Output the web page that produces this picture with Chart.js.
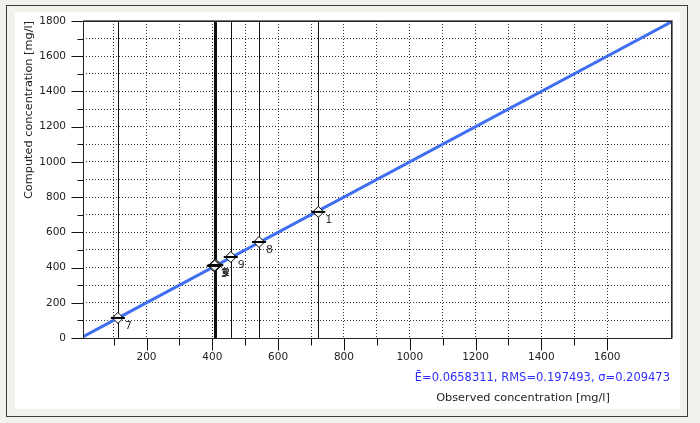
<!DOCTYPE html>
<html>
<head>
<meta charset="utf-8">
<script src="https://cdn.jsdelivr.net/npm/chart.js@4.4.0/dist/chart.umd.min.js"></script>
<style>
  html, body { margin: 0; padding: 0; background: #f2f2ed; }
  body { width: 700px; height: 423px; position: relative; overflow: hidden; }
  #frame { position: absolute; left: 6px; top: 5px; width: 682px; height: 412px; box-sizing: border-box; border: 1px solid #3c3c3c; }
  #panel { position: absolute; left: 15px; top: 12px; width: 665px; height: 397px; background: #fff; }
  canvas { display: block; }
</style>
</head>
<body>
<div id="frame"></div>
<div id="panel"><canvas id="chart" width="665" height="397"></canvas></div>
<script>
// sample numbers and values
const pointLabels = ["1", "2", "3", "4", "5", "7", "8", "9"];
const observed = [722, 412, 404, 409, 407, 113, 542, 456];
const computed = [716, 414, 410, 413, 411, 114, 545, 460];
// ideal line y = x over the axis range
const idealLine = [7, 1794];
const xTickLabels = [200, 400, 600, 800, 1000, 1200, 1400, 1600];
const yTickLabels = [0, 200, 400, 600, 800, 1000, 1200, 1400, 1600, 1800];
const statsText = "Ē=0.0658311, RMS=0.197493, σ=0.209473";

const FONT = '"DejaVu Sans", sans-serif';

const points = observed.map((v, i) => ({ x: v, y: computed[i] }));

const decor = {
    id: "decor",
    beforeDatasetsDraw(chart) {
        // vertical lines through every sample
        const { ctx, scales: { x, y } } = chart;
        ctx.save();
        ctx.strokeStyle = "#111";
        ctx.lineWidth = 1;
        observed.forEach(v => {
            const px = Math.round(x.getPixelForValue(v)) + 0.5;
            ctx.beginPath();
            ctx.moveTo(px, y.getPixelForValue(0));
            ctx.lineTo(px, y.getPixelForValue(1800));
            ctx.stroke();
        });
        ctx.restore();
    },
    afterDatasetsDraw(chart) {
        const { ctx, scales: { x, y } } = chart;
        ctx.save();
        ctx.font = "11px " + FONT;
        ctx.fillStyle = "#333";
        ctx.textAlign = "left";
        ctx.textBaseline = "middle";
        pointLabels.forEach((lab, i) => {
            ctx.fillText(lab, x.getPixelForValue(observed[i]) + 7, y.getPixelForValue(computed[i]) + 8);
        });
        ctx.restore();
    },
    afterDraw(chart) {
        const { ctx, chartArea: a, scales: { x, y } } = chart;
        ctx.save();
        // plot frame
        ctx.strokeStyle = "#222";
        ctx.lineWidth = 1;
        ctx.strokeRect(Math.round(a.left) + 0.5, Math.round(a.top) + 0.5,
            Math.round(a.right - a.left), Math.round(a.bottom - a.top));
        ctx.strokeStyle = "#777";
        ctx.beginPath();
        ctx.moveTo(Math.round(a.left), Math.round(a.top) - 0.5);
        ctx.lineTo(Math.round(a.right) + 1.5, Math.round(a.top) - 0.5);
        ctx.lineTo(Math.round(a.right) + 1.5, Math.round(a.bottom) + 0.5);
        ctx.stroke();

        // tick marks, long at labelled values
        ctx.strokeStyle = "#111";
        const bottom = Math.round(a.bottom) + 0.5;
        x.ticks.forEach(t => {
            if (t.value % 100 !== 0) return;
            const len = t.value % 200 === 0 ? 12 : 7;
            const px = Math.round(x.getPixelForValue(t.value)) + 0.5;
            ctx.beginPath();
            ctx.moveTo(px, bottom);
            ctx.lineTo(px, bottom + len);
            ctx.stroke();
        });
        const left = Math.round(a.left) + 0.5;
        y.ticks.forEach(t => {
            if (t.value % 100 !== 0) return;
            const len = t.value % 200 === 0 ? 12 : 6;
            const py = Math.round(y.getPixelForValue(t.value)) + 0.5;
            ctx.beginPath();
            ctx.moveTo(left, py);
            ctx.lineTo(left - len, py);
            ctx.stroke();
        });

        // statistics and x title
        ctx.textBaseline = "middle";
        ctx.font = "11.5px " + FONT;
        ctx.fillStyle = "#2f2fff";
        ctx.textAlign = "right";
        ctx.fillText(statsText, a.right - 1, a.bottom + 40);
        ctx.font = "11.3px " + FONT;
        ctx.fillStyle = "#222";
        ctx.textAlign = "center";
        ctx.fillText("Observed concentration [mg/l]", a.left + 440, a.bottom + 60);
        ctx.restore();
    }
};

new Chart(document.getElementById("chart"), {
    type: "scatter",
    data: {
        datasets: [
            {
                // arrow bar through each marker
                data: points,
                pointStyle: "line",
                pointRadius: 7,
                pointBorderWidth: 2,
                pointBorderColor: "#000",
                showLine: false,
                order: 0
            },
            {
                data: points,
                pointStyle: "rectRot",
                pointRadius: 5.5,
                pointBackgroundColor: "#fff",
                pointBorderColor: "#000",
                pointBorderWidth: 1,
                showLine: false,
                order: 1
            },
            {
                type: "line",
                data: idealLine.map(v => ({ x: v, y: v })),
                borderColor: "#3f6ff0",
                borderWidth: 3,
                pointRadius: 0,
                order: 2
            }
        ]
    },
    options: {
        responsive: false,
        animation: false,
        layout: { padding: { left: 0, top: 7, right: 6, bottom: 0 } },
        plugins: { legend: { display: false }, tooltip: { enabled: false } },
        scales: {
            x: {
                type: "linear",
                min: 7,
                max: 1794,
                afterFit: s => { s.height = 71; },
                grid: { color: "#333", drawTicks: true, tickLength: 13, tickColor: "rgba(0,0,0,0)", lineWidth: 1 },
                border: { display: false, dash: [1, 2] },
                ticks: {
                    stepSize: 100,
                    autoSkip: false,
                    maxRotation: 0,
                    padding: 0,
                    color: "#222",
                    font: { family: FONT, size: 10.5 },
                    callback: v => xTickLabels.includes(v) ? String(v) : ""
                }
            },
            y: {
                type: "linear",
                min: 0,
                max: 1800,
                afterFit: s => { s.width = 68; },
                grid: { color: "#333", drawTicks: true, tickLength: 17, tickColor: "rgba(0,0,0,0)", lineWidth: 1 },
                border: { display: false, dash: [1, 2] },
                ticks: {
                    stepSize: 100,
                    autoSkip: false,
                    padding: 0,
                    color: "#222",
                    font: { family: FONT, size: 10.5 },
                    callback: v => yTickLabels.includes(v) ? String(v) : ""
                },
                title: {
                    display: true,
                    text: "Computed concentration [mg/l]",
                    align: "end",
                    color: "#222",
                    font: { family: FONT, size: 11.3 },
                    padding: { top: 7, bottom: 0 }
                }
            }
        }
    },
    plugins: [decor]
});
</script>
</body>
</html>
